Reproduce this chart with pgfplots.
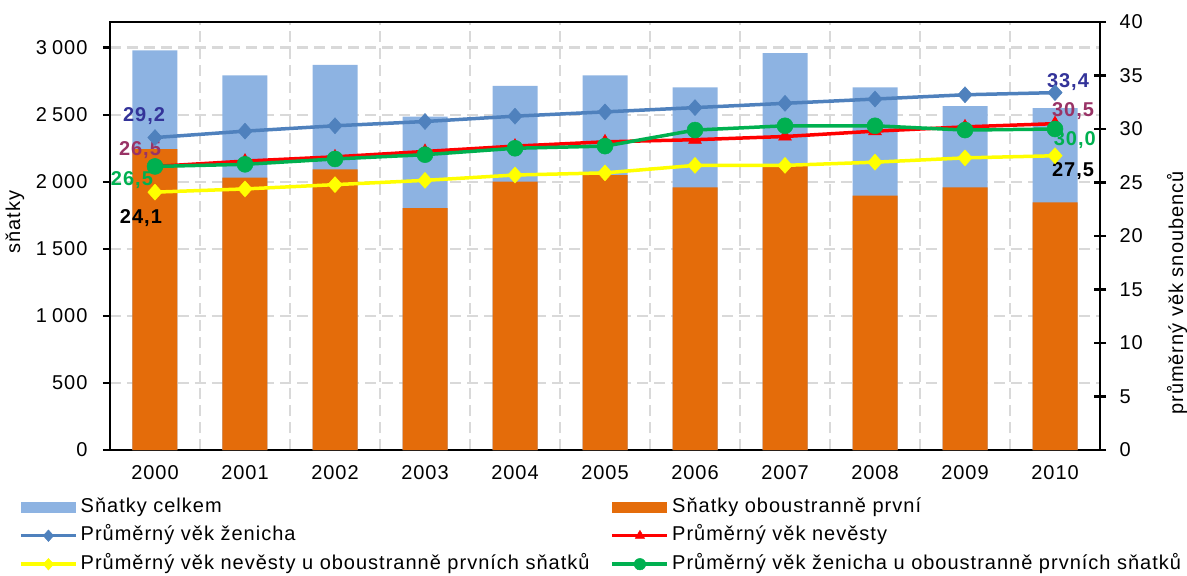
\documentclass[border=0pt]{standalone}
\usepackage{pgfplots}
\pgfplotsset{compat=1.18}
\usepackage{pgfplotstable}
\usepackage{fontspec}
\setmainfont[LetterSpace=5]{Liberation Sans}
\definecolor{barblue}{HTML}{8DB3E2}
\definecolor{barorange}{HTML}{E46C0A}
\definecolor{lblue}{HTML}{4F81BD}
\definecolor{lgreen}{HTML}{00B050}
\definecolor{lyellow}{HTML}{FFFF00}
\definecolor{lred}{HTML}{FF0000}
\definecolor{labblue}{HTML}{333399}
\definecolor{labred}{HTML}{993366}
\definecolor{gridgray}{HTML}{D9D9D9}

\pgfplotstableread{
x total first
0 2980 2244
1 2793 2032
2 2873 2092
3 2487 1804
4 2716 2002
5 2793 2050
6 2704 1958
7 2960 2122
8 2704 1898
9 2565 1958
10 2550 1846
}\bars

\pgfplotstableread{
x groom bride brideF groomF
0 29.2 26.5 24.1 26.5
1 29.8 27.0 24.4 26.7
2 30.3 27.4 24.8 27.2
3 30.7 27.9 25.2 27.6
4 31.2 28.4 25.7 28.2
5 31.6 28.8 25.9 28.4
6 32.0 29.0 26.6 29.9
7 32.4 29.3 26.6 30.3
8 32.8 29.8 26.9 30.3
9 33.2 30.2 27.3 29.9
10 33.4 30.5 27.5 30.0
}\ages

\pgfplotsset{
  base/.style={scale only axis, width=990pt, height=428pt,
    xmin=-0.5, xmax=10.5, at={(0pt,0pt)}, anchor=south west,
    font=\fontsize{20}{24}\selectfont,
    /pgf/number format/assume math mode=true},
  barleg/.style={legend image code/.code={\fill[##1, draw=none] (0pt,-5.5pt) rectangle (55pt,5.5pt);}},
  lineleg/.style={legend image code/.code={\draw[mark repeat=2,mark phase=2,##1, every mark/.append style={scale=0.72}] plot coordinates {(0pt,0pt) (27.5pt,0pt) (55pt,0pt)};}},
}
\newcommand{\lab}{\bfseries\fontsize{20}{24}\selectfont}

\begin{document}
\begin{tikzpicture}
\path[use as bounding box] (-110pt,-126pt) rectangle (1077pt,450pt);
\begin{axis}[base,
  ymin=0, ymax=3192,
  ytick={0,500,...,3000},
  yticklabel style={/pgf/number format/1000 sep={\hspace{5pt}}, xshift=-12pt},
  xtick={0,...,10},
  xticklabels={2000,2001,2002,2003,2004,2005,2006,2007,2008,2009,2010},
  xticklabel style={yshift=-5pt},
  minor xtick={0.5,1.5,...,9.5},
  xminorgrids, ymajorgrids,
  grid style={gridgray, line width=2.5pt, dash pattern=on 11pt off 6pt},
  minor grid style={gridgray, line width=2.5pt, dash pattern=on 11pt off 6pt},
  major x tick style={draw=none},
  minor tick length=0pt,
  ytick pos=left,
  tick align=outside,
  major tick length=7pt,
  ytick style={black, line width=2.5pt},
  axis line style={black, line width=2.5pt},
  ylabel={sňatky},
  ylabel style={at={(axis description cs:-0.096,0.533)}, anchor=center},
]
\addplot[ybar, bar width=0.5, fill=barblue, draw=none] table[x=x,y=total]{\bars};
\addplot[ybar, bar width=0.5, fill=barorange, draw=none] table[x=x,y=first]{\bars};
\end{axis}

\begin{axis}[base,
  ymin=0, ymax=40,
  ytick={0,5,...,40},
  axis y line*=right, axis x line=none,
  tick align=center, major tick length=12pt,
  ytick style={black, line width=2.5pt},
  y axis line style={black, line width=2.5pt},
  yticklabel style={xshift=10pt},
  ylabel={průměrný věk snoubenců},
  ylabel style={at={(axis description cs:1.078,0.367)}, anchor=center, rotate=0},
  legend columns=2,
  legend cell align=left,
  legend style={at={(0,0)}, anchor=north west, xshift=-94pt, yshift=-45pt,
    draw=none, fill=none, font=\fontsize{20}{24}\selectfont,
    row sep=8.5pt,
    nodes={inner xsep=3pt, inner ysep=0pt, text height=15pt, text depth=5pt}},
]
\addlegendimage{barleg, fill=barblue}
\addlegendentry{\makebox[527pt][l]{Sňatky celkem}}
\addlegendimage{barleg, fill=barorange}
\addlegendentry{Sňatky oboustranně první}

\addplot[lineleg, lblue, line width=3.5pt, mark=diamond*, mark size=8pt,
  mark options={fill=lblue, draw=lblue, line width=0.5pt, xscale=1.2}]
  table[x=x,y=groom]{\ages};
\addlegendentry{\makebox[527pt][l]{Průměrný věk ženicha}}
\addplot[lineleg, lred, line width=3.5pt, mark=triangle*, mark size=7.5pt,
  mark options={fill=lred, draw=lred, line width=0.5pt}]
  table[x=x,y=bride]{\ages};
\addlegendentry{Průměrný věk nevěsty}
\addplot[lineleg, lyellow, line width=3.5pt, mark=diamond*, mark size=8pt,
  mark options={fill=lyellow, draw=lyellow, line width=0.5pt, xscale=1.2}]
  table[x=x,y=brideF]{\ages};
\addlegendentry{\makebox[527pt][l]{Průměrný věk nevěsty u oboustranně prvních sňatků}}
\addplot[lineleg, lgreen, line width=3.5pt, mark=*, mark size=8pt,
  mark options={fill=lgreen, draw=lgreen, line width=0.5pt}]
  table[x=x,y=groomF]{\ages};
\addlegendentry{Průměrný věk ženicha u oboustranně prvních sňatků}

\node[font=\lab, text=labblue] at (axis cs:-0.122,31.21) {29,2};
\node[font=\lab, text=labred] at (axis cs:-0.167,28.04) {26,5};
\node[font=\lab, text=lgreen] at (axis cs:-0.256,25.23) {26,5};
\node[font=\lab, text=black] at (axis cs:-0.156,21.68) {24,1};
\node[font=\lab, text=labblue] at (axis cs:10.144,34.39) {33,4};
\node[font=\lab, text=labred] at (axis cs:10.2,31.68) {30,5};
\node[font=\lab, text=lgreen] at (axis cs:10.22,28.97) {30,0};
\node[font=\lab, text=black] at (axis cs:10.2,26.07) {27,5};
\end{axis}
\end{tikzpicture}
\end{document}
